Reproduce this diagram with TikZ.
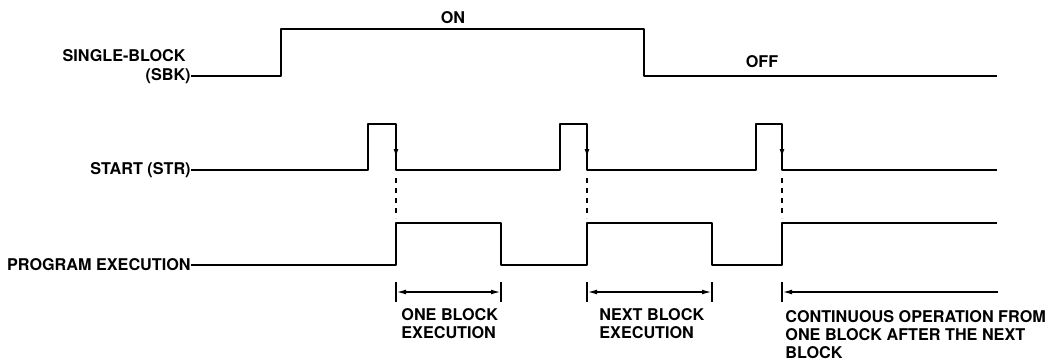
\documentclass[tikz,border=0pt]{standalone}
\usepackage{fontspec}
\setmainfont{TeX Gyre Heros}
\usetikzlibrary{arrows.meta}

\begin{document}
\begin{tikzpicture}[x=0.5pt, y=-0.5pt,
		>={Latex[length=5pt,width=2.4pt]},   %Pfeilspitzen
		font=\fontsize{8.1}{9}\selectfont\bfseries,
		wave/.style={line width=1.1pt, line join=round},
		dimline/.style={line width=0.8pt},
		lbl/.style={inner sep=0pt}]
	\useasboundingbox (0,0) rectangle (1057,360);
	% Beschriftung links
	\node[lbl, anchor=base east] (sbktop) at (186,61) {SINGLE-BLOCK};
	\node[lbl, anchor=east] (sbk) at (191,76) {(SBK)};
	\node[lbl, anchor=east] (str) at (191,170) {START (STR)};
	\node[lbl, anchor=east] (prg) at (191,265) {PROGRAM EXECUTION};
	% Signal SBK
	\draw[wave] (sbk.east) -- (281,76) -- (281,29) -- (644,29) -- (644,76) -- (997,76);
	\node[lbl] (on) at (453,18) {ON};
	\node[lbl] (off) at (762,62) {OFF};
	% Signal STR
	\draw[wave] (str.east) -- (368,170) -- (368,124) -- (396,124) -- (396,170)
		-- (560,170) -- (560,124) -- (587,124) -- (587,170)
		-- (756,170) -- (756,124) -- (782,124) -- (782,170) -- (997,170);
	% Programmablauf
	\draw[wave] (prg.east) -- (396,265) -- (396,223) -- (501,223) -- (501,265)
		-- (587,265) -- (587,223) -- (712,223) -- (712,265)
		-- (782,265) -- (782,223) -- (997,223);
	% Flanken und Hilfslinien
	\foreach \x in {396,587,782} {
		\draw[->, line width=1.1pt] (\x,136) -- (\x,159);
		\draw[line width=0.9pt, dash pattern=on 2.5pt off 2.5pt] (\x,178) -- (\x,218);
	}
	% Masspfeile
	\foreach \a/\b in {396/501,587/712} {
		\draw[dimline] (\a,282) -- (\a,302);
		\draw[dimline] (\b,282) -- (\b,302);
		\draw[dimline, <->] (\a,292) -- (\b,292);
	}
	\draw[dimline] (782,282) -- (782,302);
	\draw[dimline, <-] (782,292) -- (998,292);
	% Beschriftung unten
	\node[lbl, anchor=north west, align=left] (one) at (401,308) {ONE BLOCK\\EXECUTION};
	\node[lbl, anchor=north west, align=left] (next) at (599,308) {NEXT BLOCK\\EXECUTION};
	\node[lbl, anchor=north west, align=left] (cont) at (785,310) {CONTINUOUS OPERATION FROM\\ONE BLOCK AFTER THE NEXT\\BLOCK};
\end{tikzpicture}
\end{document}
